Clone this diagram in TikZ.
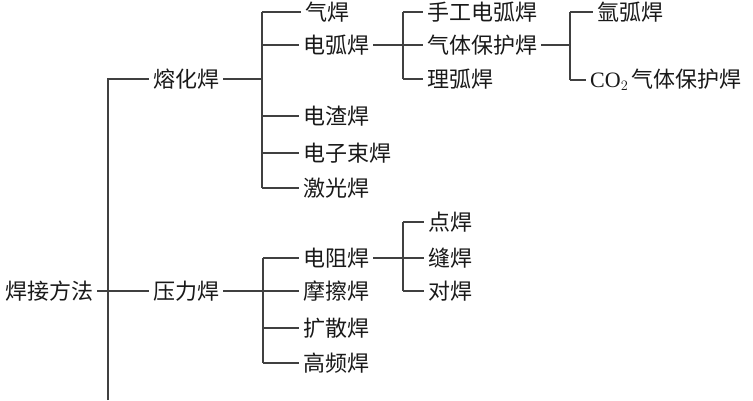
\documentclass[tikz,border=0pt]{standalone}
\usepackage{fontspec}
\setmainfont{Liberation Serif}
\newfontfamily\cjk{Noto Sans CJK SC}
\usepackage{tikz}
\usetikzlibrary{calc}
\usetikzlibrary{positioning}
\tikzstyle{lbl} = [rectangle, draw=none, inner xsep=4pt, inner ysep=0pt, anchor=west, font=\cjk\fontsize{22}{25}\selectfont, text=black!90]
\tikzstyle{br} = [-, draw=black!75, line width=1.3pt]

\begin{document}
\begin{tikzpicture}[x=1pt, y=-1pt]
\useasboundingbox (0,0) rectangle (753,400);
% first level
\node [lbl] (hjff) at (1,291) {焊接方法};
\node [lbl] (rhh) at (149,79) {熔化焊};
\node [lbl] (ylh) at (149,291) {压力焊};
% under rhh
\node [lbl] (qh) at (301,12) {气焊};
\node [lbl] (dhh) at (299,45) {电弧焊};
\node [lbl] (dzh) at (299,116) {电渣焊};
\node [lbl] (dzsh) at (299,153) {电子束焊};
\node [lbl] (jgh) at (299,188) {激光焊};
% under dhh
\node [lbl] (sgdhh) at (423,12) {手工电弧焊};
\node [lbl] (qtbhh) at (423,45) {气体保护焊};
\node [lbl] (mhh) at (423,79) {理弧焊};
% under qtbhh
\node [lbl] (yhh) at (593,12) {氩弧焊};
\node [lbl] (cotwo) at (586,80) {{\rmfamily CO$_2$}\,气体保护焊};
% under ylh
\node [lbl] (dzuh) at (299,258) {电阻焊};
\node [lbl] (mch) at (299,291) {摩擦焊};
\node [lbl] (ksh) at (299,328) {扩散焊};
\node [lbl] (gph) at (299,363) {高频焊};
% under dzuh
\node [lbl] (dh) at (424,222) {点焊};
\node [lbl] (fh) at (424,258) {缝焊};
\node [lbl] (duih) at (424,291) {对焊};
% bracket points
\coordinate (trunk) at (108,79);
\coordinate (trunkend) at (108,400);
\coordinate (brA) at (262,79);
\coordinate (brB) at (403,45);
\coordinate (brC) at (570,45);
\coordinate (brD) at (263,291);
\coordinate (brE) at (403,258);
% trunk
\draw [br] (trunkend) -- (trunk) -- (rhh.west);
\draw [br] (hjff.east) -- (ylh.west);
% fusion welding
\draw [br] (rhh.east) -- (brA);
\draw [br] (brA |- qh.west) -- (brA |- jgh.west);
\foreach \c in {qh, dhh, dzh, dzsh, jgh}
  \draw [br] (brA |- \c.west) -- (\c.west);
% arc welding
\draw [br] (dhh.east) -- (brB);
\draw [br] (brB |- sgdhh.west) -- (brB |- mhh.west);
\foreach \c in {sgdhh, qtbhh, mhh}
  \draw [br] (brB |- \c.west) -- (\c.west);
% gas shielded
\draw [br] (qtbhh.east) -- (brC);
\draw [br] (brC |- yhh.west) -- (brC |- cotwo.west);
\foreach \c in {yhh, cotwo}
  \draw [br] (brC |- \c.west) -- (\c.west);
% pressure welding
\draw [br] (ylh.east) -- (brD);
\draw [br] (brD |- dzuh.west) -- (brD |- gph.west);
\foreach \c in {dzuh, mch, ksh, gph}
  \draw [br] (brD |- \c.west) -- (\c.west);
% resistance welding
\draw [br] (dzuh.east) -- (brE);
\draw [br] (brE |- dh.west) -- (brE |- duih.west);
\foreach \c in {dh, fh, duih}
  \draw [br] (brE |- \c.west) -- (\c.west);
\end{tikzpicture}
\end{document}
